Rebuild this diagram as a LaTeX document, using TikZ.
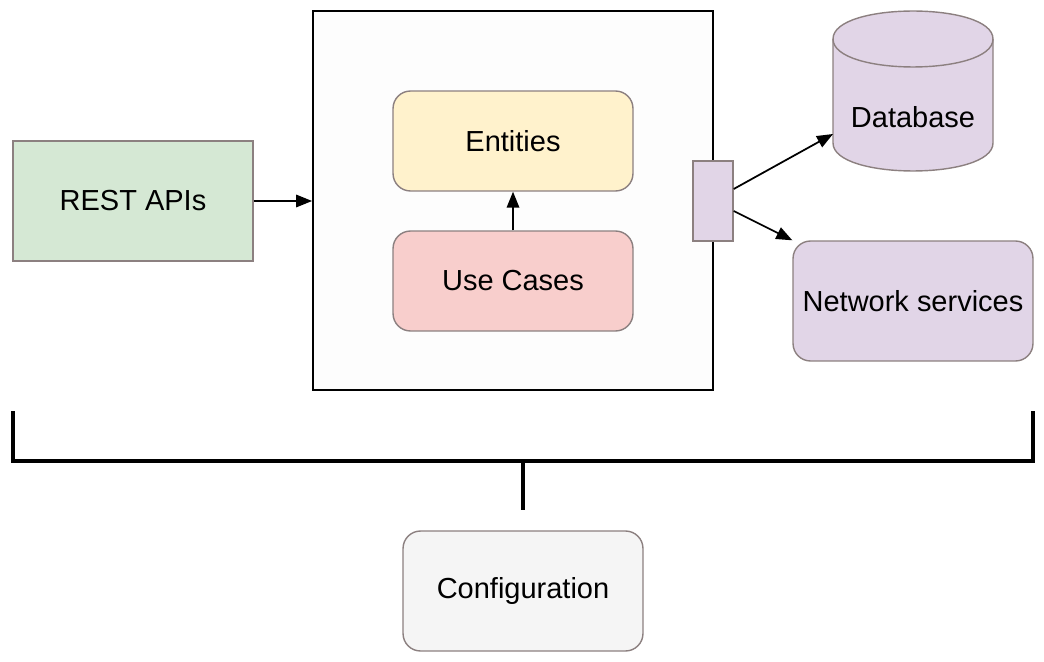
\documentclass[tikz,border=0pt]{standalone}
\usepackage{fontspec}
\setmainfont{Liberation Sans}
\usetikzlibrary{arrows.meta}

\definecolor{boxline}{RGB}{140,128,128}
\definecolor{restfill}{HTML}{D5E8D4}
\definecolor{entfill}{HTML}{FFF2CC}
\definecolor{usefill}{HTML}{F8CECC}
\definecolor{outfill}{HTML}{E1D5E7}
\definecolor{cfgfill}{HTML}{F5F5F5}
\definecolor{corefill}{HTML}{FDFDFD}

\tikzset{
  box/.style={draw=boxline, line width=0.8pt, minimum width=4.8cm, minimum height=2.4cm,
    font=\fontsize{16.5}{19}\selectfont},
  rbox/.style={box, rounded corners=0.35cm},
  link/.style={line width=1pt, -{Triangle[length=0.32cm, width=0.25cm]}},
  bracket/.style={line width=2.2pt}
}

\begin{document}
\begin{tikzpicture}[x=0.02cm, y=-0.02cm]
\useasboundingbox (0,0) rectangle (1044,662);

% core
\node[draw, line width=1.1pt, fill=corefill, minimum width=8cm, minimum height=7.58cm] (core) at (513,200.5) {};
\node[rbox, fill=entfill, minimum height=2cm] (ent) at (513,141) {Entities};
\node[rbox, fill=usefill, minimum height=2cm] (use) at (513,281) {Use Cases};
\draw[link] (use) -- (ent);

% left side
\node[box, fill=restfill] (rest) at (133,201) {REST APIs};
\draw[link] (rest) -- (rest -| core.west);

% port and outside services
\node[draw=boxline, line width=0.8pt, fill=outfill, minimum width=0.8cm, minimum height=1.6cm] (port) at (713,201) {};
\filldraw[draw=boxline, line width=0.8pt, fill=outfill] (833,39) -- (833,143) .. controls (833,180.3) and (993,180.3) .. (993,143)
  -- (993,39) .. controls (993,1.7) and (833,1.7) .. (833,39) -- cycle;
\draw[boxline, line width=0.8pt] (833,39) .. controls (833,76.3) and (993,76.3) .. (993,39);
\node[font=\fontsize{16.5}{19}\selectfont] (db) at (913,117) {Database};
\coordinate (dbin) at (833,134);
\node[rbox, fill=outfill] (net) at (913,301) {Network services};
\draw[link] ([yshift=0.24cm]port.east) -- (dbin);
\draw[link] ([yshift=-0.2cm]port.east) -- (net.north west);

% configuration
\node[rbox, fill=cfgfill] (cfg) at (523,591) {Configuration};
\coordinate (bl) at (13,411);
\coordinate (br) at (1033,411);
\draw[bracket] (bl) -- (13,461) -- (1033,461) -- (br);
\draw[bracket] (523,461) -- ([yshift=0.4cm]cfg.north);

\end{tikzpicture}
\end{document}
